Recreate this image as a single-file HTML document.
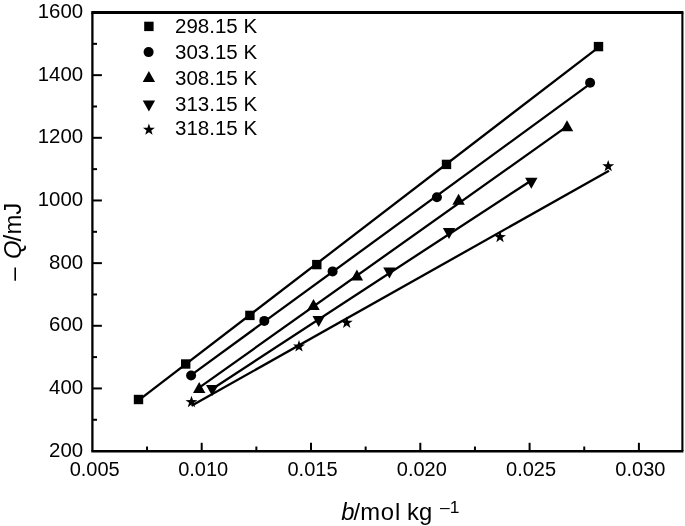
<!DOCTYPE html>
<html><head><meta charset="utf-8"><title>Q vs b</title>
<style>
html,body{margin:0;padding:0;background:#fff;}
body{width:685px;height:526px;overflow:hidden;}
svg{display:block;will-change:transform;transform:translateZ(0);}
text{font-family:"Liberation Sans",sans-serif;fill:#000;}
.tk{font-size:20px;}
.lg{font-size:20.5px;}
.ti{font-size:22.5px;}
</style></head><body>
<svg width="685" height="526" viewBox="0 0 685 526">
<rect width="685" height="526" fill="#fff"/>
<g stroke="#000" fill="none" stroke-linecap="butt">
<line x1="91.25" y1="12.5" x2="683.4" y2="12.5" stroke-width="2.8"/>
<line x1="91.25" y1="451.20000000000005" x2="683.4" y2="451.20000000000005" stroke-width="2.6"/>
<line x1="92.4" y1="12.5" x2="92.4" y2="451.1" stroke-width="2.3"/>
<line x1="682.4" y1="12.5" x2="682.4" y2="451.1" stroke-width="2.1"/>
<line x1="92.4" y1="419.77" x2="97.0" y2="419.77" stroke-width="2.0"/>
<line x1="92.4" y1="388.44" x2="101.9" y2="388.44" stroke-width="2.0"/>
<line x1="92.4" y1="357.11" x2="97.0" y2="357.11" stroke-width="2.0"/>
<line x1="92.4" y1="325.79" x2="101.9" y2="325.79" stroke-width="2.0"/>
<line x1="92.4" y1="294.46" x2="97.0" y2="294.46" stroke-width="2.0"/>
<line x1="92.4" y1="263.13" x2="101.9" y2="263.13" stroke-width="2.0"/>
<line x1="92.4" y1="231.80" x2="97.0" y2="231.80" stroke-width="2.0"/>
<line x1="92.4" y1="200.47" x2="101.9" y2="200.47" stroke-width="2.0"/>
<line x1="92.4" y1="169.14" x2="97.0" y2="169.14" stroke-width="2.0"/>
<line x1="92.4" y1="137.81" x2="101.9" y2="137.81" stroke-width="2.0"/>
<line x1="92.4" y1="106.49" x2="97.0" y2="106.49" stroke-width="2.0"/>
<line x1="92.4" y1="75.16" x2="101.9" y2="75.16" stroke-width="2.0"/>
<line x1="92.4" y1="43.83" x2="97.0" y2="43.83" stroke-width="2.0"/>
<line x1="147.05" y1="451.1" x2="147.05" y2="446.5" stroke-width="2.0"/>
<line x1="201.70" y1="451.1" x2="201.70" y2="442.8" stroke-width="2.0"/>
<line x1="256.35" y1="451.1" x2="256.35" y2="446.5" stroke-width="2.0"/>
<line x1="311.00" y1="451.1" x2="311.00" y2="442.8" stroke-width="2.0"/>
<line x1="365.65" y1="451.1" x2="365.65" y2="446.5" stroke-width="2.0"/>
<line x1="420.30" y1="451.1" x2="420.30" y2="442.8" stroke-width="2.0"/>
<line x1="474.95" y1="451.1" x2="474.95" y2="446.5" stroke-width="2.0"/>
<line x1="529.60" y1="451.1" x2="529.60" y2="442.8" stroke-width="2.0"/>
<line x1="584.25" y1="451.1" x2="584.25" y2="446.5" stroke-width="2.0"/>
<line x1="638.90" y1="451.1" x2="638.90" y2="442.8" stroke-width="2.0"/>
</g>
<g stroke="#000" stroke-width="2.3" fill="none">
<line x1="138.5" y1="400.43" x2="598.5" y2="47.33"/>
<line x1="191.1" y1="375.09" x2="590.1" y2="83.90"/>
<line x1="199.2" y1="387.63" x2="567" y2="126.42"/>
<line x1="212.2" y1="388.93" x2="531.3" y2="180.46"/>
<line x1="191.5" y1="405.86" x2="609.0" y2="170.76"/>
</g>
<g fill="#000">
<rect x="133.80" y="394.80" width="9.4" height="9.4"/>
<rect x="181.00" y="359.30" width="9.4" height="9.4"/>
<rect x="245.20" y="310.70" width="9.4" height="9.4"/>
<rect x="312.10" y="259.90" width="9.4" height="9.4"/>
<rect x="441.80" y="159.70" width="9.4" height="9.4"/>
<rect x="593.80" y="41.90" width="9.4" height="9.4"/>
<circle cx="191.10" cy="375.50" r="5.0"/>
<circle cx="264.30" cy="320.90" r="5.0"/>
<circle cx="332.60" cy="271.40" r="5.0"/>
<circle cx="436.90" cy="197.20" r="5.0"/>
<circle cx="590.10" cy="82.70" r="5.0"/>
<path d="M193.00 393.10L205.40 393.10L199.20 382.10Z"/>
<path d="M307.30 310.10L319.70 310.10L313.50 299.10Z"/>
<path d="M350.70 280.50L363.10 280.50L356.90 269.50Z"/>
<path d="M452.40 204.70L464.80 204.70L458.60 193.70Z"/>
<path d="M560.80 131.30L573.20 131.30L567.00 120.30Z"/>
<path d="M206.00 385.10L218.40 385.10L212.20 396.10Z"/>
<path d="M312.50 316.10L324.90 316.10L318.70 327.10Z"/>
<path d="M383.20 267.50L395.60 267.50L389.40 278.50Z"/>
<path d="M442.80 228.10L455.20 228.10L449.00 239.10Z"/>
<path d="M525.10 177.70L537.50 177.70L531.30 188.70Z"/>
<polygon points="191.50,395.80 192.97,400.08 197.49,400.15 193.88,402.87 195.20,407.20 191.50,404.60 187.80,407.20 189.12,402.87 185.51,400.15 190.03,400.08"/>
<polygon points="299.00,340.10 300.47,344.38 304.99,344.45 301.38,347.17 302.70,351.50 299.00,348.90 295.30,351.50 296.62,347.17 293.01,344.45 297.53,344.38"/>
<polygon points="346.70,316.50 348.17,320.78 352.69,320.85 349.08,323.57 350.40,327.90 346.70,325.30 343.00,327.90 344.32,323.57 340.71,320.85 345.23,320.78"/>
<polygon points="500.00,230.80 501.47,235.08 505.99,235.15 502.38,237.87 503.70,242.20 500.00,239.60 496.30,242.20 497.62,237.87 494.01,235.15 498.53,235.08"/>
<polygon points="608.20,159.90 609.67,164.18 614.19,164.25 610.58,166.97 611.90,171.30 608.20,168.70 604.50,171.30 605.82,166.97 602.21,164.25 606.73,164.18"/>
<rect x="144.20" y="21.70" width="9.4" height="9.4"/>
<circle cx="148.60" cy="52.10" r="5.0"/>
<path d="M142.70 81.90L155.10 81.90L148.90 70.90Z"/>
<path d="M142.70 100.40L155.10 100.40L148.90 111.40Z"/>
<polygon points="148.90,123.40 150.37,127.68 154.89,127.75 151.28,130.47 152.60,134.80 148.90,132.20 145.20,134.80 146.52,130.47 142.91,127.75 147.43,127.68"/>
</g>
<text class="lg" x="175.0" y="33.40">298.15 K</text>
<text class="lg" x="175.0" y="58.75">303.15 K</text>
<text class="lg" x="175.0" y="85.10">308.15 K</text>
<text class="lg" x="175.0" y="110.50">313.15 K</text>
<text class="lg" x="175.0" y="135.00">318.15 K</text>
<text class="tk" style="font-size:20.4px" text-anchor="end" x="83.1" y="457.10">200</text>
<text class="tk" style="font-size:20.4px" text-anchor="end" x="83.1" y="394.04">400</text>
<text class="tk" style="font-size:20.4px" text-anchor="end" x="83.1" y="331.39">600</text>
<text class="tk" style="font-size:20.4px" text-anchor="end" x="83.1" y="268.73">800</text>
<text class="tk" style="font-size:20.4px" text-anchor="end" x="83.1" y="206.07">1000</text>
<text class="tk" style="font-size:20.4px" text-anchor="end" x="83.1" y="143.41">1200</text>
<text class="tk" style="font-size:20.4px" text-anchor="end" x="83.1" y="80.76">1400</text>
<text class="tk" style="font-size:20.4px" text-anchor="end" x="83.1" y="17.80">1600</text>
<text class="tk" text-anchor="middle" x="94.70" y="476.2">0.005</text>
<text class="tk" text-anchor="middle" x="203.20" y="476.2">0.010</text>
<text class="tk" text-anchor="middle" x="312.50" y="476.2">0.015</text>
<text class="tk" text-anchor="middle" x="421.80" y="476.2">0.020</text>
<text class="tk" text-anchor="middle" x="531.10" y="476.2">0.025</text>
<text class="tk" text-anchor="middle" x="640.40" y="476.2">0.030</text>
<text style="font-size:23.8px" y="519.6"><tspan x="341.3" font-style="italic">b</tspan><tspan x="353.6">/m</tspan><tspan dx="0.6">o</tspan><tspan dx="1.0">l</tspan><tspan x="407.1">kg</tspan><tspan x="440.0" y="513.0" style="font-size:17.4px">–1</tspan></text>
<text font-size="24.8px" transform="translate(21.2,280.7) rotate(-90) scale(0.965,1)"><tspan x="0">–</tspan><tspan x="22.6" font-style="italic">Q</tspan><tspan x="40.6">/</tspan><tspan x="47.8">mJ</tspan></text>
</svg></body></html>
